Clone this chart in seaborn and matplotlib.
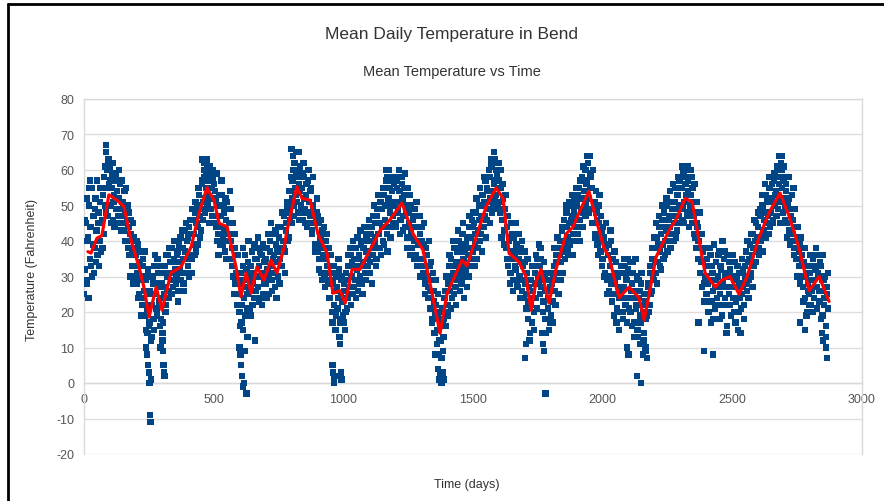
import numpy as np
import pandas as pd
import matplotlib
matplotlib.use("Agg")
import matplotlib.pyplot as plt
from matplotlib.lines import Line2D
import seaborn as sns

# daily readings, one value every 4 days starting at day 0 (rows of 100 days)
temp_rows = [
    [25, 32, 45, 28, 41, 50, 35, 44, 30, 47, 38, 52, 43, 36, 48, 40, 55, 45, 38, 58, 50, 67, 60, 47, 56],
    [61, 50, 55, 46, 53, 58, 49, 54, 45, 52, 56, 47, 51, 43, 54, 48, 40, 50, 44, 36, 42, 33, 45, 38, 30],
    [36, 28, 39, 25, 34, 30, 22, 35, 26, 19, 29, 14, 22, 17, 25, 13, 30, 18, 33, 25, 21, 35, 27, 16, 24],
    [28, 17, 25, 33, 22, 30, 36, 26, 34, 29, 38, 27, 35, 40, 30, 37, 26, 34, 41, 31, 38, 28, 43, 35, 40],
    [33, 44, 36, 42, 31, 46, 39, 48, 37, 50, 44, 53, 41, 49, 56, 46, 58, 52, 62, 50, 57, 61, 49, 55, 60],
    [47, 54, 44, 59, 42, 50, 39, 47, 53, 41, 48, 37, 46, 51, 40, 45, 35, 49, 38, 30, 42, 28, 36, 25, 31],
    [20, 28, 17, 33, 24, 36, 27, 21, 34, 26, 30, 19, 37, 28, 24, 35, 30, 38, 27, 33, 24, 36, 31, 25, 34],
    [28, 38, 32, 25, 40, 33, 29, 42, 36, 27, 39, 34, 30, 41, 35, 44, 33, 40, 47, 37, 45, 51, 41, 48, 54],
    [45, 57, 50, 62, 53, 59, 48, 56, 61, 50, 55, 46, 58, 49, 53, 44, 57, 51, 47, 55, 43, 50, 45, 39, 48],
    [37, 45, 35, 41, 31, 43, 36, 30, 40, 33, 28, 38, 24, 31, 20, 28, 22, 31, 19, 27, 24, 32, 18, 29, 23],
    [17, 26, 20, 29, 24, 33, 27, 36, 30, 25, 35, 29, 38, 32, 26, 36, 30, 39, 28, 34, 40, 31, 37, 42, 33],
    [40, 31, 44, 36, 47, 39, 45, 35, 49, 42, 38, 51, 44, 40, 53, 46, 57, 42, 50, 60, 48, 44, 54, 47, 56],
    [51, 45, 57, 49, 54, 46, 58, 52, 47, 55, 44, 50, 41, 48, 53, 43, 38, 46, 40, 49, 36, 44, 39, 33, 42],
    [35, 44, 31, 39, 28, 36, 30, 24, 33, 21, 29, 18, 26, 14, 22, 11, 19, 8, 16, 12, 21, 9, 18, 26, 20],
    [30, 22, 33, 26, 35, 24, 31, 38, 27, 34, 29, 40, 32, 37, 28, 42, 35, 30, 39, 27, 36, 44, 33, 41, 46],
    [37, 45, 39, 48, 35, 43, 50, 40, 47, 53, 44, 51, 57, 46, 54, 49, 58, 52, 61, 50, 56, 63, 53, 59, 50],
    [57, 48, 55, 46, 52, 43, 49, 38, 44, 33, 40, 31, 37, 42, 29, 36, 32, 39, 27, 35, 30, 38, 26, 33, 24],
    [34, 25, 31, 18, 27, 14, 22, 17, 26, 20, 31, 24, 35, 28, 33, 38, 27, 31, 23, 30, 18, 26, 21, 15, 27],
    [19, 28, 23, 33, 26, 36, 29, 38, 31, 40, 34, 43, 37, 46, 39, 48, 41, 36, 45, 50, 40, 47, 42, 52, 44],
    [50, 42, 55, 46, 52, 58, 48, 54, 60, 50, 57, 62, 52, 59, 49, 55, 45, 51, 42, 48, 39, 45, 53, 37, 43],
    [35, 41, 31, 38, 29, 36, 26, 33, 40, 23, 30, 19, 28, 34, 21, 27, 15, 24, 31, 20, 27, 33, 22, 29, 35],
    [24, 31, 20, 28, 34, 17, 26, 21, 30, 13, 24, 19, 28, 11, 20, 14, 23, 9, 19, 27, 22, 31, 26, 35, 29],
    [38, 31, 41, 34, 44, 37, 32, 46, 39, 48, 36, 43, 50, 40, 47, 54, 42, 49, 56, 45, 51, 41, 53, 47, 57],
    [49, 55, 46, 59, 51, 56, 47, 54, 60, 48, 53, 45, 51, 42, 48, 38, 45, 35, 42, 31, 38, 27, 34, 23, 30],
    [25, 33, 20, 29, 36, 23, 31, 18, 27, 34, 22, 30, 37, 25, 32, 19, 28, 35, 24, 31, 16, 27, 34, 22, 30],
    [36, 24, 29, 17, 27, 33, 20, 28, 14, 25, 32, 22, 30, 37, 26, 34, 29, 39, 31, 36, 42, 33, 40, 45, 37],
    [44, 38, 47, 41, 50, 43, 48, 53, 45, 51, 42, 55, 48, 52, 46, 57, 50, 54, 60, 49, 56, 52, 62, 55, 48],
    [58, 50, 54, 45, 52, 43, 49, 40, 46, 55, 38, 44, 35, 41, 33, 39, 30, 36, 27, 34, 24, 31, 20, 28, 25],
    [31, 22, 29, 35, 24, 32, 27, 36, 30, 23, 33, 26, 19, 29, 24, 16, 27, 21],
]

# the in-between days (day 2, 6, 10, ...)
temp_rows_b = [
    [46, 29, 52, 40, 24, 44, 33, 55, 39, 31, 49, 34, 57, 45, 33, 51, 37, 46, 53, 42, 61, 48, 55, 63, 50],
    [57, 45, 62, 51, 44, 59, 52, 47, 60, 49, 43, 57, 50, 45, 40, 55, 46, 38, 48, 30, 46, 37, 28, 41, 33],
    [40, 31, 24, 37, 29, 19, 33, 24, 37, 30, 21, 32, 16, 26, 12, 22, 28, 15, 36, 28, 19, 31, 23, 33, 18],
    [14, 27, 31, 20, 36, 26, 24, 38, 31, 25, 34, 40, 32, 28, 36, 23, 39, 32, 29, 43, 35, 26, 37, 45, 31],
    [41, 30, 46, 35, 49, 42, 36, 51, 45, 39, 55, 47, 43, 57, 51, 60, 48, 55, 63, 53, 45, 58, 52, 47, 57],
    [56, 45, 52, 40, 36, 53, 44, 57, 39, 50, 43, 52, 35, 49, 42, 54, 40, 33, 45, 25, 38, 31, 22, 36, 29],
    [16, 31, 22, 38, 29, 19, 32, 25, 40, 21, 33, 28, 22, 31, 39, 26, 35, 41, 23, 37, 30, 22, 39, 28, 35],
    [35, 24, 42, 30, 37, 45, 26, 35, 31, 43, 24, 37, 44, 28, 38, 33, 48, 38, 31, 43, 50, 40, 54, 46, 58],
    [52, 60, 47, 55, 65, 51, 58, 46, 54, 59, 48, 62, 52, 45, 56, 48, 60, 45, 54, 42, 58, 48, 37, 46, 52],
    [47, 32, 39, 46, 29, 38, 44, 27, 35, 42, 31, 24, 36, 29, 17, 33, 26, 15, 30, 21, 35, 17, 25, 30, 19],
    [28, 15, 31, 21, 36, 25, 38, 22, 34, 40, 27, 33, 24, 41, 35, 28, 43, 33, 25, 38, 44, 29, 41, 35, 46],
    [34, 42, 28, 38, 50, 41, 33, 47, 53, 38, 45, 36, 49, 55, 39, 50, 44, 37, 52, 55, 41, 51, 58, 45, 50],
    [44, 55, 48, 60, 42, 51, 56, 43, 53, 59, 48, 38, 55, 45, 36, 50, 41, 47, 35, 44, 51, 33, 40, 47, 30],
    [40, 33, 45, 25, 38, 33, 27, 40, 26, 34, 17, 31, 23, 19, 29, 15, 25, 12, 20, 7, 17, 13, 24, 16, 30],
    [19, 28, 36, 21, 30, 40, 25, 33, 22, 37, 43, 30, 26, 39, 33, 45, 24, 37, 32, 41, 30, 47, 38, 35, 44],
    [48, 33, 42, 52, 38, 46, 55, 42, 37, 50, 58, 47, 41, 55, 51, 60, 45, 54, 48, 63, 57, 52, 60, 49, 55],
    [51, 60, 41, 56, 49, 39, 53, 35, 47, 41, 28, 45, 35, 26, 41, 33, 45, 28, 37, 42, 24, 34, 40, 29, 37],
    [28, 21, 35, 23, 12, 29, 24, 33, 15, 28, 36, 21, 30, 39, 25, 35, 29, 20, 34, 26, 14, 29, 24, 31, 17],
    [31, 17, 30, 38, 22, 34, 41, 25, 36, 29, 44, 31, 40, 35, 50, 44, 37, 51, 39, 46, 53, 36, 48, 40, 55],
    [46, 53, 40, 57, 49, 44, 61, 52, 47, 56, 64, 48, 55, 58, 45, 60, 50, 41, 54, 46, 36, 50, 41, 47, 33],
    [44, 30, 39, 45, 25, 39, 30, 43, 28, 35, 25, 37, 31, 17, 30, 24, 20, 33, 26, 18, 35, 24, 30, 17, 32],
    [21, 34, 26, 16, 31, 24, 35, 22, 15, 29, 26, 17, 31, 22, 12, 25, 18, 7, 28, 20, 33, 25, 38, 30, 41],
    [34, 45, 28, 39, 47, 33, 42, 50, 35, 44, 40, 52, 37, 46, 44, 38, 51, 47, 40, 55, 49, 43, 58, 50, 45],
    [55, 61, 50, 45, 58, 53, 48, 57, 44, 50, 58, 55, 47, 56, 41, 51, 44, 40, 48, 34, 42, 37, 28, 38, 25],
    [35, 28, 23, 38, 17, 33, 26, 39, 21, 29, 24, 36, 18, 33, 27, 40, 22, 37, 30, 14, 36, 25, 32, 19, 34],
    [27, 20, 34, 23, 30, 15, 31, 24, 21, 35, 27, 18, 33, 28, 40, 24, 35, 30, 42, 27, 38, 46, 34, 41, 48],
    [36, 49, 40, 53, 37, 46, 56, 41, 52, 47, 58, 44, 51, 56, 45, 59, 53, 47, 61, 51, 58, 45, 60, 52, 57],
    [46, 56, 41, 50, 58, 39, 47, 53, 42, 36, 49, 40, 30, 44, 37, 28, 41, 34, 23, 38, 30, 19, 33, 26, 22],
    [36, 26, 20, 33, 27, 38, 21, 31, 26, 34, 18, 29, 36, 22, 30, 13, 25, 31],
]

# extremes seen in the cloud (highs and cold snaps)
extra_days = [22, 20, 86, 92, 96, 110, 125, 455, 462, 470, 475, 490, 800, 806, 812, 830, 842,
              1165, 1170, 1190, 1200, 1212, 1570, 1580, 1590, 1598, 1935, 1950, 1955, 2305, 2330,
              2340, 2680, 2690, 2700,
              238, 240, 244, 246, 248, 250, 252, 254, 256, 258, 295, 302, 304, 306, 308, 310,
              600, 603, 606, 610, 612, 614, 618, 622, 625, 627, 630, 660,
              958, 960, 963, 965, 970, 985, 988, 990, 993,
              1355, 1365, 1368, 1372, 1378, 1385, 1388,
              1700, 1705, 1765, 1770, 1775, 1780,
              2095, 2100, 2120, 2133, 2148, 2145, 2155, 2165,
              2370, 2391, 2426, 2760, 2780, 2845, 2850, 2860, 2866]
extra_temps = [57, 55, 65, 61, 61, 59, 57, 63, 62, 59, 61, 59, 66, 64, 60, 65, 59,
               60, 58, 57, 58, 58, 63, 65, 60, 62, 60, 64, 59, 58, 61,
               60, 64, 64, 61,
               15, 10, 8, 14, 5, 3, 0, -9, -11, 1, 10, 12, 9, 5, 3, 2,
               10, 8, 5, 2, -1, 15, 0, 9, -3, -3, 13, 12,
               5, 3, 1, 0, 2, 13, 11, 3, 1,
               8, 4, 1, 3, 0, 3, 1,
               7, 11, 14, 11, 9, -3,
               10, 8, 13, 2, 0, 11, 8, 10,
               17, 9, 8, 17, 15, 14, 12, 10, 7]

# moving average (red line)
mean_days = [15, 27, 50, 69, 96, 127, 154, 181, 212, 231, 251, 278, 301, 335, 374, 413, 444, 474,
             501, 521, 552, 586, 605, 625, 644, 667, 694, 721, 744, 771, 783, 821, 841, 872, 902,
             937, 960, 987, 1007, 1034, 1064, 1103, 1142, 1180, 1226, 1269, 1307, 1342, 1373,
             1400, 1423, 1458, 1477, 1512, 1550, 1589, 1616, 1639, 1678, 1704, 1724, 1743, 1762,
             1793, 1820, 1859, 1886, 1909, 1947, 1975, 2005, 2025, 2063, 2102, 2140, 2160, 2179,
             2206, 2256, 2283, 2318, 2345, 2372, 2395, 2434, 2460, 2491, 2526, 2557, 2603, 2642,
             2684, 2719, 2757, 2796, 2835, 2873]
mean_temps = [37, 36.6, 40.8, 41.5, 53, 51.5, 49.7, 40.3, 32.7, 27, 18.6, 27, 20.5, 31, 32.7, 38.3,
              47.9, 55, 51.5, 45, 44, 32.7, 24.3, 31, 25.3, 32.7, 29, 34.6, 31, 38, 43, 55.3, 52,
              51.5, 42, 36.6, 25.3, 26, 22.5, 32, 32, 37.5, 43, 46, 50.7, 42, 37.5, 25.3, 14,
              25.3, 29, 34.6, 33, 41, 49.6, 55, 52, 36.6, 34, 30, 20.5, 28.5, 32, 22.5, 32, 42,
              44, 48, 54, 46, 38, 35.5, 24, 27, 24, 17.7, 25, 35.5, 43, 46, 52, 51, 40, 31, 27,
              29, 30, 25, 30, 41, 48, 53.5, 47, 38, 26, 30, 23]

temps_a = [t for row in temp_rows for t in row]
temps_b = [t for row in temp_rows_b for t in row]
days_a = list(np.arange(0, 4 * len(temps_a), 4))
days_b = list(np.arange(2, 4 * len(temps_b) + 2, 4))
df = pd.DataFrame({"day": days_a + days_b + extra_days,
                   "temp": temps_a + temps_b + extra_temps})
mean_df = pd.DataFrame({"day": mean_days, "temp": mean_temps})

sns.set_style("white")
plt.rcParams["font.family"] = ["Liberation Sans", "DejaVu Sans"]
plt.rcParams["axes.unicode_minus"] = False

fig = plt.figure(figsize=(8.84, 5.02), dpi=100)
ax = fig.add_axes([84 / 884, 47 / 502, 778 / 884, 355 / 502])

sns.scatterplot(data=df, x="day", y="temp", marker="s", s=21, color="#004586",
                edgecolor="none", linewidth=0, ax=ax, zorder=3)
sns.lineplot(data=mean_df, x="day", y="temp", color="#ff0000", linewidth=2.3,
             sort=False, estimator=None, ax=ax, zorder=4)

ax.set_xlim(0, 3000)
ax.set_ylim(-20, 80)
ax.set_xticks(range(0, 3001, 500))
ax.set_yticks(range(-20, 81, 10))
ax.grid(axis="y", color="#dddddd", linewidth=1)
ax.set_axisbelow(True)
ax.set_xlabel("")
ax.set_ylabel("")

for side in ["left", "right", "top", "bottom"]:
    ax.spines[side].set_color("#d9d9d9")
    ax.spines[side].set_linewidth(1)
ax.spines["bottom"].set_position(("data", 0))
ax.tick_params(axis="x", length=4, width=1, color="#d9d9d9", labelsize=9,
               labelcolor="#555555", pad=3)
ax.tick_params(axis="y", length=0, labelsize=9, labelcolor="#555555", pad=7)

fig.text(452 / 884, 1 - 35 / 502, "Mean Daily Temperature in Bend", ha="center",
         va="center", fontsize=12.5, color="#333333")
fig.text(452 / 884, 1 - 72 / 502, "Mean Temperature vs Time", ha="center",
         va="center", fontsize=10.5, color="#333333")
fig.text(32 / 884, 1 - 270 / 502, "Temperature (Fahrenheit)", rotation=90, ha="center",
         va="center", fontsize=9, color="#333333")
fig.text(467 / 884, 1 - 485 / 502, "Time (days)", ha="center", va="center",
         fontsize=9, color="#333333")

# black frame along the top and left edge
fig.add_artist(Line2D([8 / 884, 1], [1 - 5 / 502, 1 - 5 / 502], color="black", linewidth=2,
                      transform=fig.transFigure))
fig.add_artist(Line2D([8 / 884, 8 / 884], [0, 1 - 5 / 502], color="black", linewidth=2,
                      transform=fig.transFigure))

fig.savefig("out.png", dpi=100)
